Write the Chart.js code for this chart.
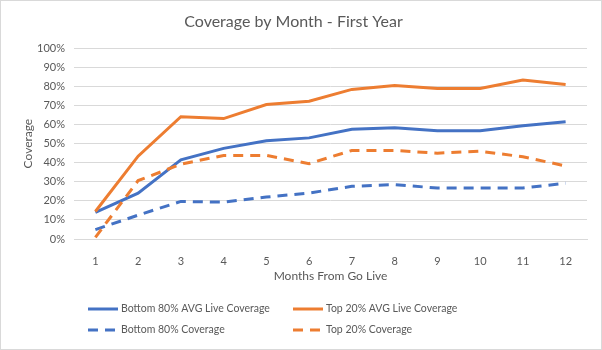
<!DOCTYPE html>
<html>
<head>
<meta charset="utf-8">
<script src="https://cdn.jsdelivr.net/npm/chart.js@4"></script>
<style>
  html, body { margin: 0; padding: 0; background: #fff; }
  #wrap { width: 602px; height: 350px; }
</style>
</head>
<body>
<div id="wrap"><canvas id="c" width="602" height="350"></canvas></div>
<script>
// months 1..12 from go live
const months = ['1', '2', '3', '4', '5', '6', '7', '8', '9', '10', '11', '12'];
const bottomAvgLive = [14, 24, 41.5, 47.5, 51.5, 53, 57.5, 58.3, 56.8, 56.8, 59.4, 61.5];
const topAvgLive = [14.4, 43.4, 64.1, 63.1, 70.5, 72.2, 78.4, 80.5, 78.9, 78.9, 83.3, 81];
const bottomCoverage = [4.9, 12.5, 19.7, 19.3, 22, 24.1, 27.6, 28.5, 26.7, 26.7, 26.7, 29.2];
const topCoverage = [0.9, 30.6, 39.2, 43.8, 43.8, 39.5, 46.4, 46.4, 45, 46, 43.1, 38.3];
const yTicks = [0, 10, 20, 30, 40, 50, 60, 70, 80, 90, 100];

const BLUE = '#4472C4';
const ORANGE = '#ED7D31';
const TEXT = '#595959';
const GRID = '#D9D9D9';
const FONT = 'Lato, "Liberation Sans", sans-serif';

// outer frame like the excel chart border
const framePlugin = {
  id: 'frame',
  beforeDraw(chart) {
    const c = chart.ctx;
    c.save();
    c.fillStyle = '#fff';
    c.fillRect(0, 0, chart.width, chart.height);
    c.strokeStyle = GRID;
    c.lineWidth = 1;
    c.strokeRect(0.5, 0.5, chart.width - 1, chart.height - 1);
    c.restore();
  }
};

// two-column legend, drawn under the axis title
const legendPlugin = {
  id: 'gridLegend',
  afterDraw(chart) {
    const c = chart.ctx;
    const cols = [88, 293];
    const rows = [chart.height - 41, chart.height - 20];
    c.save();
    c.font = '10.5px ' + FONT;
    c.fillStyle = TEXT;
    c.textBaseline = 'middle';
    chart.data.datasets.forEach((ds, i) => {
      const x = cols[i % 2];
      const y = rows[Math.floor(i / 2)];
      c.beginPath();
      c.strokeStyle = ds.borderColor;
      c.lineWidth = ds.borderWidth;
      c.setLineDash(ds.borderDash || []);
      c.moveTo(x, y);
      c.lineTo(x + 30, y);
      c.stroke();
      c.setLineDash([]);
      c.fillText(ds.label, x + 33, y);
    });
    c.restore();
  }
};

const dash = [10, 7];

new Chart(document.getElementById('c'), {
  type: 'line',
  data: {
    labels: months,
    datasets: [
      { label: 'Bottom 80% AVG Live Coverage', data: bottomAvgLive, borderColor: BLUE, borderWidth: 3, order: 4 },
      { label: 'Top 20% AVG Live Coverage', data: topAvgLive, borderColor: ORANGE, borderWidth: 3, order: 3 },
      { label: 'Bottom 80% Coverage', data: bottomCoverage, borderColor: BLUE, borderWidth: 3, borderDash: dash, order: 2 },
      { label: 'Top 20% Coverage', data: topCoverage, borderColor: ORANGE, borderWidth: 3, borderDash: dash, order: 1 }
    ]
  },
  options: {
    responsive: false,
    animation: false,
    devicePixelRatio: 1,
    layout: { padding: { left: 0, right: 15, top: 0, bottom: 61 } },
    elements: { point: { radius: 0 }, line: { tension: 0, fill: false } },
    plugins: {
      legend: { display: false },
      tooltip: { enabled: false },
      title: {
        display: true,
        text: 'Coverage by Month - First Year',
        color: TEXT,
        font: { family: FONT, size: 16, weight: 'normal' },
        padding: { top: 12, bottom: 17 }
      }
    },
    scales: {
      x: {
        offset: true,
        grid: { display: false },
        border: { color: GRID },
        ticks: { color: TEXT, font: { family: FONT, size: 11 }, padding: 8, maxRotation: 0 },
        title: { display: true, text: 'Months From Go Live', color: TEXT, font: { family: FONT, size: 12 }, padding: { top: 0, bottom: 6 } },
        afterFit(scale) { scale.height = 50; }
      },
      y: {
        min: 0,
        max: 100,
        afterBuildTicks(scale) { scale.ticks = yTicks.map(v => ({ value: v })); },
        grid: { color: GRID, drawTicks: false },
        border: { display: false },
        ticks: { color: TEXT, font: { family: FONT, size: 11 }, padding: 9, callback: v => v + '%' },
        title: { display: true, text: 'Coverage', color: TEXT, font: { family: FONT, size: 12 }, padding: { top: 21, bottom: 0 } },
        afterFit(scale) { scale.width = 74; }
      }
    }
  },
  plugins: [framePlugin, legendPlugin]
});
</script>
</body>
</html>
